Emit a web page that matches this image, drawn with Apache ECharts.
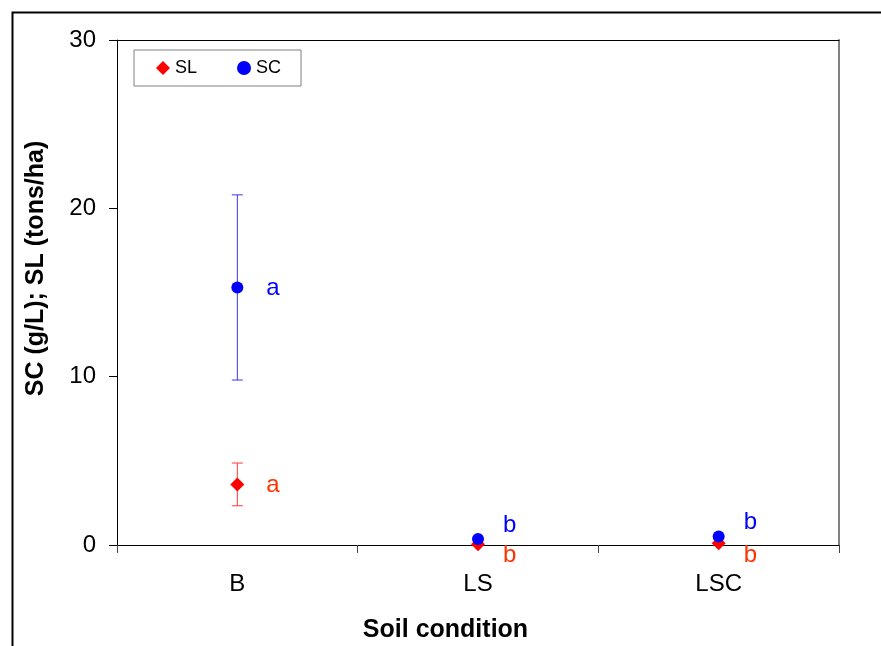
<!DOCTYPE html>
<html lang="en">
<head>
    <meta charset="UTF-8">
    <title>SC / SL by soil condition</title>
    <script src="https://cdn.jsdelivr.net/npm/echarts@6/dist/echarts.min.js"></script>
    <style>
        html, body {margin: 0; padding: 0; background: #fff;}
    </style>
</head>
<body>
<div id="main" style="width: 881px;height:646px;"></div>
<script type="text/javascript">
    // data
    var categories = ['B', 'LS', 'LSC'];
    var scMean = [15.3, 0.35, 0.5];
    var scErr = [5.5, 0, 0];
    var slMean = [3.6, 0.05, 0.1];
    var slErr = [1.27, 0, 0];
    var scLetters = ['a', 'b', 'b'];
    var slLetters = ['a', 'b', 'b'];
    var yTicks = [0, 10, 20, 30];

    // label offsets (style only)
    var scLabelOffset = [[0, 1], [-4, -14], [-4, -14]];
    var slLabelOffset = [[0, 1], [-4, 11], [-4, 12]];

    var font = "'Liberation Sans', Arial, sans-serif";
    var myChart = echarts.init(document.getElementById('main'));

    function points(means, letters, offsets) {
        return means.map(function (v, i) {
            return {
                value: [i, v],
                letter: letters[i],
                label: {offset: offsets[i]}
            };
        });
    }

    function errData(means, errs) {
        return means.map(function (v, i) {
            return [i, v, v - errs[i], v + errs[i]];
        });
    }

    function errRender(color) {
        return function (params, api) {
            var x = api.value(0);
            var lo = api.coord([x, api.value(2)]);
            var hi = api.coord([x, api.value(3)]);
            if (api.value(3) - api.value(2) <= 0) return null;
            var w = 5.5;
            var st = {stroke: color, lineWidth: 1};
            return {
                type: 'group',
                children: [
                    {type: 'line', shape: {x1: lo[0], y1: lo[1], x2: hi[0], y2: hi[1]}, style: st},
                    {type: 'line', shape: {x1: lo[0] - w, y1: lo[1], x2: lo[0] + w, y2: lo[1]}, style: st},
                    {type: 'line', shape: {x1: hi[0] - w, y1: hi[1], x2: hi[0] + w, y2: hi[1]}, style: st}
                ]
            };
        };
    }

    myChart.setOption({
        animation: false,
        textStyle: {fontFamily: font},
        graphic: [
            {
                type: 'rect', left: 10, top: 10, z: -10,
                shape: {width: 900, height: 700},
                style: {fill: null, stroke: '#000', lineWidth: 2}
            }
        ],
        grid: {left: 117, top: 40, right: 42, bottom: 101, outerBoundsMode: 'none', containLabel: false},
        legend: {
            left: 134, top: 50,
            data: ['SL', 'SC'],
            orient: 'horizontal',
            backgroundColor: '#fff',
            borderColor: '#808080',
            borderWidth: 1,
            padding: [9, 20, 9, 22],
            itemGap: 40,
            itemWidth: 14,
            itemHeight: 14,
            itemStyle: {borderWidth: 0},
            textStyle: {fontFamily: font, fontSize: 18, color: '#000'}
        },
        xAxis: [
            {
                type: 'category',
                data: categories,
                boundaryGap: true,
                name: 'Soil condition',
                nameLocation: 'middle',
                nameGap: 73,
                nameTextStyle: {fontFamily: font, fontSize: 25, fontWeight: 'bold', color: '#000', padding: [0, 65, 0, 0]},
                axisLine: {show: true, lineStyle: {color: '#000', width: 1}},
                axisTick: {show: true, length: 8, lineStyle: {color: '#444'}},
                axisLabel: {fontFamily: font, fontSize: 24, color: '#000', margin: 27},
                splitLine: {show: false}
            },
            {
                type: 'category',
                data: categories,
                position: 'top',
                axisLine: {show: true, onZero: false, lineStyle: {color: '#000', width: 1}},
                axisTick: {show: false},
                axisLabel: {show: false},
                splitLine: {show: false}
            }
        ],
        yAxis: [
            {
                type: 'value',
                min: yTicks[0],
                max: yTicks[yTicks.length - 1],
                interval: 10,
                name: 'SC (g/L); SL (tons/ha)',
                nameLocation: 'middle',
                nameGap: 68,
                nameTextStyle: {fontFamily: font, fontSize: 25, fontWeight: 'bold', color: '#000', padding: [0, 0, 0, 48]},
                axisLine: {show: true, lineStyle: {color: '#000', width: 1}},
                axisTick: {show: true, length: 8, lineStyle: {color: '#000'}},
                axisLabel: {fontFamily: font, fontSize: 24, color: '#000', margin: 21},
                splitLine: {show: false}
            },
            {
                type: 'value',
                position: 'right',
                min: yTicks[0],
                max: yTicks[yTicks.length - 1],
                interval: 10,
                axisLine: {show: true, onZero: false, lineStyle: {color: '#808080', width: 2}},
                axisTick: {show: false},
                axisLabel: {show: false},
                splitLine: {show: false}
            }
        ],
        series: [
            {
                name: 'SC err',
                type: 'custom',
                renderItem: errRender('#3838ee'),
                data: errData(scMean, scErr),
                encode: {x: 0, y: [1, 2, 3]},
                z: 1
            },
            {
                name: 'SL err',
                type: 'custom',
                renderItem: errRender('#ff3a3a'),
                data: errData(slMean, slErr),
                encode: {x: 0, y: [1, 2, 3]},
                z: 1
            },
            {
                name: 'SC',
                type: 'scatter',
                symbol: 'circle',
                symbolSize: 12,
                itemStyle: {color: '#0000ff', opacity: 1},
                data: points(scMean, scLetters, scLabelOffset),
                label: {
                    show: true,
                    position: 'right',
                    distance: 23,
                    fontFamily: font,
                    fontSize: 24,
                    color: '#0000ff',
                    formatter: function (p) { return p.data.letter; }
                },
                z: 3
            },
            {
                name: 'SL',
                type: 'scatter',
                symbol: 'diamond',
                symbolSize: 14,
                itemStyle: {color: '#ff0000', opacity: 1},
                data: points(slMean, slLetters, slLabelOffset),
                label: {
                    show: true,
                    position: 'right',
                    distance: 22,
                    fontFamily: font,
                    fontSize: 24,
                    color: '#ff3300',
                    formatter: function (p) { return p.data.letter; }
                },
                z: 2
            }
        ]
    });
</script>
</body>
</html>
